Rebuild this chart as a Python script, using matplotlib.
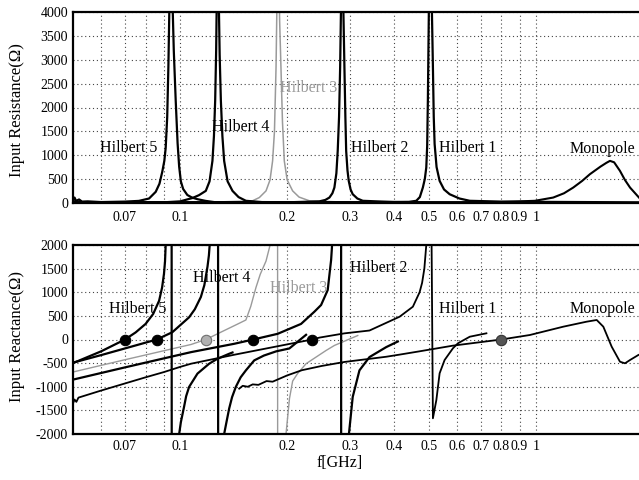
import matplotlib
matplotlib.use("Agg")
import matplotlib.pyplot as plt
from matplotlib.ticker import FixedLocator, NullFormatter

plt.rcParams['font.family'] = ['Liberation Serif', 'DejaVu Serif']

# ---------------- data: input resistance (Ohm) vs f (GHz) ----------------
h5_r_f = [0.05, 0.0505, 0.051, 0.052, 0.053, 0.055, 0.06, 0.065, 0.07, 0.0766, 0.0818, 0.0854,
          0.0875, 0.0891, 0.0903, 0.0911, 0.0920, 0.0927, 0.0934, 0.0940, 0.0946, 0.0960,
          0.0972, 0.0984, 0.0994, 0.1005, 0.1020, 0.1048, 0.1080, 0.1120, 0.118, 0.126, 0.15, 0.3]
h5_r_v = [20, 110, 40, 70, 25, 30, 15, 20, 25, 40, 90, 230,
          400, 650, 880, 1150, 1800, 2850, 4300, 6500, 5000, 3200,
          2150, 1250, 760, 450, 290, 164, 110, 75, 40, 10, 5, 5]

h4_r_f = [0.05, 0.09, 0.1, 0.1083, 0.113, 0.1181, 0.1210, 0.1233, 0.1245, 0.1255, 0.1263,
          0.1269, 0.1275, 0.1283, 0.1292, 0.1302, 0.1315, 0.1330, 0.1360, 0.1404, 0.146,
          0.1531, 0.17, 0.4]
h4_r_v = [10, 10, 30, 100, 160, 250, 450, 880, 1400, 2150, 3200,
          4500, 6500, 4500, 3100, 2150, 1400, 880, 450, 250, 120,
          42, 15, 5]

h3_r_f = [0.05, 0.12, 0.1598, 0.167, 0.1744, 0.1790, 0.182, 0.1842, 0.1861, 0.1872, 0.1882,
          0.1892, 0.1905, 0.1921, 0.1940, 0.1963, 0.200, 0.2072, 0.216, 0.2309, 0.3, 0.5]
h3_r_v = [5, 10, 42, 110, 250, 480, 880, 1500, 2850, 4200, 6500,
          5000, 3800, 2850, 1700, 880, 480, 250, 120, 42, 10, 5]

h2_r_f = [0.05, 0.2, 0.2463, 0.2560, 0.2629, 0.2680, 0.2715, 0.2750, 0.2774, 0.2798, 0.2818,
          0.2836, 0.2851, 0.2870, 0.2897, 0.2915, 0.2930, 0.2955, 0.2979, 0.3015, 0.3057,
          0.315, 0.3262, 0.4, 0.8]
h2_r_v = [5, 10, 30, 60, 110, 200, 320, 620, 1090, 1800, 2850,
          4300, 6500, 4500, 2850, 1800, 1090, 680, 460, 280, 180,
          90, 42, 15, 5]

h1_r_f = [0.05, 0.3, 0.44, 0.4613, 0.4720, 0.4813, 0.4875, 0.4921, 0.4950, 0.4972, 0.4995,
          0.5020, 0.5044, 0.5090, 0.5137, 0.5165, 0.5194, 0.5260, 0.5365, 0.5520, 0.5725,
          0.6100, 0.6521, 0.80, 0.9936, 1.95]
h1_r_v = [5, 10, 20, 42, 120, 320, 500, 740, 1200, 2150, 3500,
          5000, 6500, 4500, 2850, 1800, 1235, 750, 460, 280, 180,
          90, 42, 25, 20, 10]

mono_r_f = [0.05, 0.5, 0.7918, 0.994, 1.119, 1.20, 1.274, 1.35, 1.419, 1.52, 1.58, 1.616,
            1.66, 1.724, 1.78, 1.840, 1.95]
mono_r_v = [5, 8, 15, 42, 110, 200, 320, 460, 600, 760, 840, 880,
            850, 670, 480, 320, 110]

# ---------------- data: input reactance (Ohm) vs f (GHz) ----------------
h5_x_f = [0.05, 0.06, 0.07, 0.075, 0.080, 0.0840, 0.0873, 0.0890, 0.0901, 0.0907, 0.0911,
          0.0925, 0.0946, 0.0948, 0.0990, 0.0994, 0.1005, 0.1026, 0.1040, 0.1060, 0.1119,
          0.1207, 0.1274, 0.1374, 0.1404]
h5_x_v = [-500, -250, 0, 150, 330, 540, 820, 1100, 1390, 1650, 2000,
          3500, 8000, -8000, -2300, -2000, -1750, -1425, -1200, -1004, -722,
          -512, -407, -302, -275]

h4_x_f = [0.05, 0.06, 0.0860, 0.0951, 0.1060, 0.1100, 0.1144, 0.1170, 0.1194, 0.1205, 0.1212,
          0.1240, 0.1278, 0.1280, 0.1325, 0.1330, 0.1350, 0.1374, 0.1400, 0.1435, 0.1480,
          0.1531, 0.1616, 0.1720, 0.1864, 0.2028, 0.2260]
h4_x_v = [-490, -330, 0, 154, 470, 640, 900, 1150, 1540, 1780, 2036,
          3500, 8000, -8000, -2300, -2000, -1750, -1460, -1220, -1000, -800,
          -653, -442, -340, -250, -190, 99]

h3_x_f = [0.05, 0.07, 0.09, 0.1074, 0.1181, 0.1466, 0.1531, 0.1580, 0.1634, 0.1680, 0.1744,
          0.1802, 0.1850, 0.1879, 0.1881, 0.1960, 0.1985, 0.2030, 0.2072, 0.2140, 0.2260,
          0.2573, 0.2715, 0.3158]
h3_x_v = [-688, -428, -238, -105, 0, 343, 413, 700, 1100, 1380, 1660,
          2080, 4000, 8000, -8000, -3000, -2000, -1250, -880, -720, -512,
          -232, -126, 84]

h2_x_f = [0.05, 0.07, 0.09, 0.1074, 0.1419, 0.1606, 0.1880, 0.2188, 0.2385, 0.2491, 0.2600,
          0.2658, 0.2680, 0.2760, 0.2835, 0.2837, 0.2955, 0.3057, 0.3193, 0.3407, 0.3797, 0.4094]
h2_x_v = [-849, -590, -400, -267, -91, 0, 120, 330, 588, 730, 1047,
          1683, 2100, 4000, 8000, -8000, -2300, -1214, -653, -372, -161, -42]

h1_x_f = [0.05, 0.0505, 0.0511, 0.0518, 0.06, 0.07, 0.08, 0.09, 0.1, 0.1074, 0.1419, 0.2350,
          0.2464, 0.2897, 0.3407, 0.4140, 0.4512, 0.4713, 0.4790, 0.4860, 0.4921, 0.4980,
          0.5070, 0.5137, 0.5253, 0.5365, 0.5541, 0.5848, 0.6041, 0.6521, 0.7262]
h1_x_v = [-1354, -1270, -1320, -1230, -1080, -930, -800, -690, -580, -512, -323, 0,
          40, 130, 190, 482, 694, 1000, 1200, 1500, 2000, 3000,
          4000, -1668, -1280, -715, -434, -186, -80, 59, 131]

mono_x_f = [0.1466, 0.150, 0.155, 0.160, 0.166, 0.175, 0.182, 0.20, 0.22, 0.25, 0.29, 0.3797,
            0.414, 0.4713, 0.5848, 0.80, 0.9617, 1.194, 1.389, 1.483, 1.548, 1.634, 1.724,
            1.781, 1.840, 1.942]
mono_x_v = [-1040, -980, -1000, -950, -960, -880, -893, -760, -650, -560, -475, -365,
            -320, -250, -130, 0, 95, 271, 377, 413, 271, -152, -470,
            -504, -434, -328]

# zero-reactance markers
dot_f = [0.07, 0.0860, 0.1181, 0.1606, 0.2350, 0.80]
dot_v = [0, 0, 0, 0, 0, 0]
dot_face = ['black', 'black', '#b0b0b0', 'black', 'black', '#555555']
dot_edge = ['black', 'black', '#707070', 'black', 'black', '#333333']

# tick positions / labels
xtick_vals = [0.07, 0.1, 0.2, 0.3, 0.4, 0.5, 0.6, 0.7, 0.8, 0.9, 1.0]
xtick_lbls = ['0.07', '0.1', '0.2', '0.3', '0.4', '0.5', '0.6', '0.7', '0.8', '0.9', '1']
xgrid_minor = [0.06, 0.08, 0.09]
r_ticks = [0, 500, 1000, 1500, 2000, 2500, 3000, 3500, 4000]
x_ticks = [-2000, -1500, -1000, -500, 0, 500, 1000, 1500, 2000]

# labels (name, f, value, colour)
r_labels = [("Hilbert 5", 0.0718, 1150, 'black'), ("Hilbert 4", 0.1476, 1590, 'black'),
            ("Hilbert 3", 0.2295, 2410, '#9a9a9a'), ("Hilbert 2", 0.3636, 1150, 'black'),
            ("Hilbert 1", 0.6436, 1150, 'black'), ("Monopole", 1.535, 1130, 'black')]
x_labels = [("Hilbert 5", 0.0762, 645, 'black'), ("Hilbert 4", 0.1305, 1300, 'black'),
            ("Hilbert 3", 0.2149, 1090, '#9a9a9a'), ("Hilbert 2", 0.3612, 1510, 'black'),
            ("Hilbert 1", 0.6436, 645, 'black'), ("Monopole", 1.535, 645, 'black')]

# ---------------- figure ----------------
W, H = 639, 480
fig = plt.figure(figsize=(W / 100, H / 100), dpi=100)
axL, axR = 73 / W, 1.0
ax1 = fig.add_axes([axL, 1 - 202.8 / H, axR - axL, (202.8 - 12.2) / H])
ax2 = fig.add_axes([axL, 1 - 434 / H, axR - axL, (434 - 245) / H])

def style(ax, ylim, yt, pad_x):
    ax.set_xscale('log')
    ax.set_xlim(0.05, 1.95)
    ax.set_ylim(*ylim)
    ax.xaxis.set_major_locator(FixedLocator(xtick_vals))
    ax.set_xticklabels(xtick_lbls)
    ax.xaxis.set_minor_locator(FixedLocator(xgrid_minor))
    ax.xaxis.set_minor_formatter(NullFormatter())
    ax.set_yticks(yt)
    ax.set_yticklabels([str(t) for t in yt])
    ax.tick_params(axis='both', which='both', length=0, labelsize=10)
    ax.tick_params(axis='x', pad=pad_x)
    ax.tick_params(axis='y', pad=3.5)
    ax.grid(True, which='both', axis='x', color='#444444', linestyle=(0, (1, 2.5)), linewidth=0.8)
    ax.grid(True, which='major', axis='y', color='#444444', linestyle=(0, (1, 2.5)), linewidth=0.8)
    for s in ['top', 'bottom', 'left']:
        ax.spines[s].set_linewidth(1.6)
    ax.spines['right'].set_visible(False)
    ax.set_axisbelow(True)

style(ax1, (0, 4000), r_ticks, 6)
style(ax2, (-2000, 2000), x_ticks, 4)

# resistance
ax1.plot(h3_r_f, h3_r_v, color='#9a9a9a', lw=1.1)
ax1.plot(h5_r_f, h5_r_v, color='black', lw=1.6)
ax1.plot(h4_r_f, h4_r_v, color='black', lw=1.6)
ax1.plot(h2_r_f, h2_r_v, color='black', lw=1.6)
ax1.plot(h1_r_f, h1_r_v, color='black', lw=1.6)
ax1.plot(mono_r_f, mono_r_v, color='black', lw=1.5)

# reactance
ax2.plot(h3_x_f, h3_x_v, color='#9a9a9a', lw=1.0)
ax2.plot(h5_x_f, h5_x_v, color='black', lw=1.6)
ax2.plot(h4_x_f, h4_x_v, color='black', lw=1.6)
ax2.plot(h2_x_f, h2_x_v, color='black', lw=1.6)
ax2.plot(h1_x_f, h1_x_v, color='black', lw=1.3)
ax2.plot(mono_x_f, mono_x_v, color='black', lw=1.3)
for f, v, fc, ec in zip(dot_f, dot_v, dot_face, dot_edge):
    ax2.plot([f], [v], marker='o', markersize=7.5, markerfacecolor=fc,
             markeredgecolor=ec, markeredgewidth=0.8, linestyle='none', zorder=5)

for name, f, v, c in r_labels:
    ax1.text(f, v, name, ha='center', va='center', fontsize=11.5, color=c)
for name, f, v, c in x_labels:
    ax2.text(f, v, name, ha='center', va='center', fontsize=11.5, color=c)

fig.text(17 / W, 1 - 110 / H, "Input Resistance(Ω)", rotation=90, ha='center', va='center', fontsize=12)
fig.text(17 / W, 1 - 337 / H, "Input Reactance(Ω)", rotation=90, ha='center', va='center', fontsize=12)
fig.text(340 / W, 1 - 463 / H, "f[GHz]", ha='center', va='center', fontsize=11.5)

fig.savefig("out.png", dpi=100)
